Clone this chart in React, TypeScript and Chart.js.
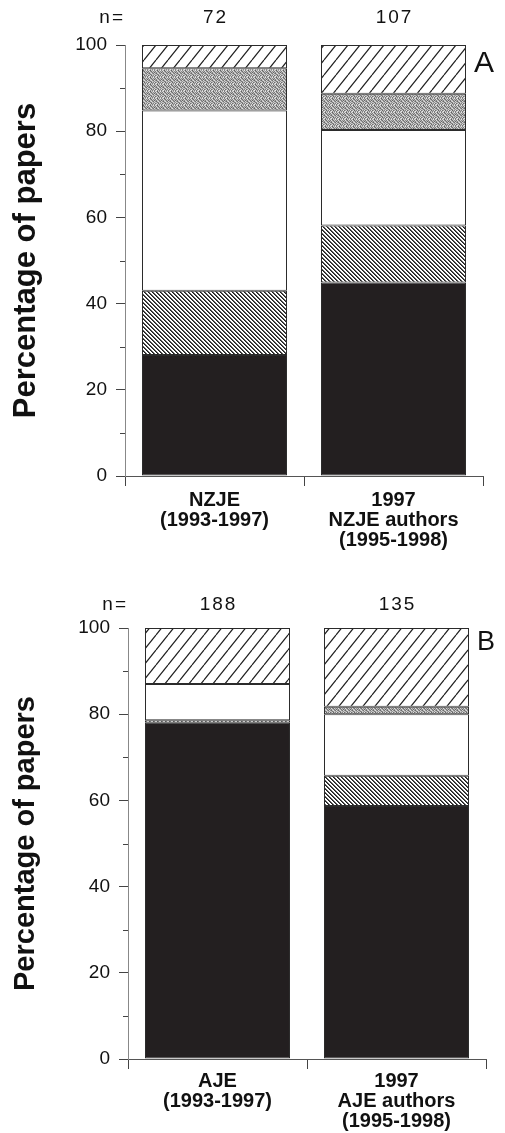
import React, { useEffect, useRef } from "react";
import { Chart, registerables } from "chart.js";

Chart.register(...registerables);

// ---------- data ----------
const categoriesA = [["NZJE", "(1993-1997)"], ["1997", "NZJE authors", "(1995-1998)"]];
const nA = [72, 107];
const solidA = [28.1, 44.9];
const denseHatchA = [14.9, 13.2];
const openA = [41.8, 22.2];
const stippleA = [9.8, 8.4];
const wideHatchA = [5.4, 11.3];

const categoriesB = [["AJE", "(1993-1997)"], ["1997", "AJE authors", "(1995-1998)"]];
const nB = [188, 135];
const solidB = [78.0, 58.7];
const denseHatchB = [0.6, 7.0];
const openB = [8.4, 14.3];
const stippleB = [0, 1.7];
const wideHatchB = [13.0, 18.3];

const yMin = 0;
const yMax = 100;
const yStep = 20;
const minorTicks = [10, 30, 50, 70, 90];
const yTitle = "Percentage of papers";
const nPrefix = "n=";

const FONT = '"Liberation Sans", Arial, Helvetica, sans-serif';

function makePatterns() {
  // dense back-slash hatch
  const d = document.createElement("canvas");
  d.width = 4;
  d.height = 4;
  const dc = d.getContext("2d")!;
  const di = dc.createImageData(4, 4);
  for (let y = 0; y < 4; y++) {
    for (let x = 0; x < 4; x++) {
      const k = (((x - y) % 4) + 4) % 4;
      const v = k === 0 ? 30 : k === 1 ? 90 : 255;
      const o = (y * 4 + x) * 4;
      di.data[o] = v;
      di.data[o + 1] = v;
      di.data[o + 2] = v;
      di.data[o + 3] = 255;
    }
  }
  dc.putImageData(di, 0, 0);

  // stipple gray
  const grayTile = [
    [130, 215, 170, 95, 200, 160, 230],
    [185, 120, 225, 150, 110, 205, 140],
    [100, 175, 135, 210, 165, 120, 190],
    [215, 145, 105, 180, 225, 150, 115],
    [150, 200, 185, 120, 140, 210, 175],
    [225, 110, 160, 215, 100, 180, 130],
    [120, 190, 235, 140, 195, 125, 205],
  ];
  const gs = grayTile.length;
  const g = document.createElement("canvas");
  g.width = gs;
  g.height = gs;
  const gc = g.getContext("2d")!;
  const gi = gc.createImageData(gs, gs);
  for (let y = 0; y < gs; y++) {
    for (let x = 0; x < gs; x++) {
      const v = grayTile[y][x];
      const o = (y * gs + x) * 4;
      gi.data[o] = v;
      gi.data[o + 1] = v;
      gi.data[o + 2] = v;
      gi.data[o + 3] = 255;
    }
  }
  gc.putImageData(gi, 0, 0);

  // wide forward-slash hatch
  const w = document.createElement("canvas");
  const tw = 12;
  const th = 15;
  w.width = tw;
  w.height = th;
  const wc = w.getContext("2d")!;
  wc.fillStyle = "#ffffff";
  wc.fillRect(0, 0, tw, th);
  wc.strokeStyle = "#1e1e1e";
  wc.lineWidth = 1.2;
  for (const dx of [-tw, 0, tw]) {
    wc.beginPath();
    wc.moveTo(dx, th);
    wc.lineTo(dx + tw, 0);
    wc.stroke();
  }

  const ctx = document.createElement("canvas").getContext("2d")!;
  return {
    dense: ctx.createPattern(d, "repeat")!,
    stipple: ctx.createPattern(g, "repeat")!,
    wide: ctx.createPattern(w, "repeat")!,
  };
}

type PanelProps = {
  top: number;
  height: number;
  categories: string[][];
  n: number[];
  series: number[][];
  letter: string;
  letterSize: number;
  letterDy: number;
  nGap: number;
  areaTop: number;
  areaBottom: number;
  areaLeft: number;
  areaRight: number;
  titleSize: number;
  xPad: number;
};

function Panel(p: PanelProps) {
  const ref = useRef<HTMLCanvasElement>(null);

  useEffect(() => {
    const canvas = ref.current!;
    const pats = makePatterns();

    const decor = {
      id: "panelDecor",
      afterDraw(chart: any) {
        const { ctx, chartArea, scales } = chart;
        const ys = scales.y;
        const xs = scales.x;
        ctx.save();
        ctx.strokeStyle = "#444";
        ctx.lineWidth = 1;
        for (const v of minorTicks) {
          const py = Math.round(ys.getPixelForValue(v)) + 0.5;
          ctx.beginPath();
          ctx.moveTo(chartArea.left - 5, py);
          ctx.lineTo(chartArea.left, py);
          ctx.stroke();
        }
        ctx.fillStyle = "#111";
        ctx.textBaseline = "middle";
        ctx.font = `normal 19px ${FONT}`;
        (ctx as any).letterSpacing = "2px";
        const ny = chartArea.top - p.nGap;
        ctx.textAlign = "right";
        ctx.fillText(nPrefix, chartArea.left, ny);
        ctx.textAlign = "center";
        p.n.forEach((v, i) => ctx.fillText(String(v), xs.getPixelForValue(i) + 1, ny));
        (ctx as any).letterSpacing = "0px";
        ctx.font = `normal ${p.letterSize}px ${FONT}`;
        ctx.textAlign = "left";
        ctx.fillText(p.letter, chartArea.right - 9, chartArea.top + p.letterDy);
        ctx.restore();
      },
    };

    const common = {
      borderColor: "#2b2b2b",
      borderWidth: 1,
      borderSkipped: false,
      barPercentage: 0.81,
      categoryPercentage: 1.0,
    };

    const chart = new Chart(canvas, {
      type: "bar",
      data: {
        labels: p.categories,
        datasets: [
          { label: "solid", data: p.series[0], backgroundColor: "#231f20", ...common },
          { label: "dense hatch", data: p.series[1], backgroundColor: pats.dense, ...common },
          { label: "open", data: p.series[2], backgroundColor: "#ffffff", ...common },
          { label: "stipple", data: p.series[3], backgroundColor: pats.stipple, ...common },
          { label: "wide hatch", data: p.series[4], backgroundColor: pats.wide, ...common },
        ],
      } as any,
      options: {
        animation: false,
        responsive: false,
        devicePixelRatio: 1,
        layout: {
          padding: { top: p.areaTop, right: 505 - p.areaRight, left: 0, bottom: 0 },
        },
        plugins: { legend: { display: false }, tooltip: { enabled: false } },
        scales: {
          x: {
            stacked: true,
            offset: true,
            grid: { offset: true, drawOnChartArea: false, tickLength: 10, color: "#444", lineWidth: 1 },
            border: { color: "#555", width: 1 },
            ticks: {
              autoSkip: false,
              maxRotation: 0,
              padding: p.xPad,
              color: "#111",
              font: { family: FONT, size: 20, weight: "bold", lineHeight: 1.0 },
            },
            afterFit: (s: any) => {
              s.height = p.height - p.areaBottom;
            },
          },
          y: {
            stacked: true,
            min: yMin,
            max: yMax,
            ticks: {
              stepSize: yStep,
              padding: 9,
              color: "#111",
              font: { family: FONT, size: 19 },
            },
            grid: { drawOnChartArea: false, tickLength: 9, color: "#444", lineWidth: 1 },
            border: { color: "#888", width: 1 },
            title: {
              display: true,
              text: yTitle,
              color: "#111",
              font: { family: FONT, size: p.titleSize, weight: "bold", lineHeight: 1.0 },
              padding: { top: 26 - p.titleSize / 2, bottom: 0 },
            },
            afterFit: (s: any) => {
              s.width = p.areaLeft;
            },
          },
        },
      } as any,
      plugins: [decor],
    });
    return () => chart.destroy();
  }, []);

  return (
    <canvas
      ref={ref}
      width={505}
      height={p.height}
      style={{ position: "absolute", left: 0, top: p.top, width: 505, height: p.height, display: "block" }}
    />
  );
}

export default function App() {
  return (
    <div style={{ position: "absolute", left: 0, top: 0, width: 505, height: 1133, background: "#fff" }}>
      <Panel
        top={0}
        height={560}
        categories={categoriesA}
        n={nA}
        series={[solidA, denseHatchA, openA, stippleA, wideHatchA]}
        letter="A"
        letterSize={30}
        letterDy={19}
        nGap={27}
        areaTop={45}
        areaBottom={476}
        areaLeft={125}
        areaRight={483}
        titleSize={31}
        xPad={4}
      />
      <Panel
        top={560}
        height={573}
        categories={categoriesB}
        n={nB}
        series={[solidB, denseHatchB, openB, stippleB, wideHatchB]}
        letter="B"
        letterSize={27}
        letterDy={15}
        nGap={23}
        areaTop={68}
        areaBottom={499}
        areaLeft={128}
        areaRight={486}
        titleSize={29}
        xPad={2}
      />
    </div>
  );
}
